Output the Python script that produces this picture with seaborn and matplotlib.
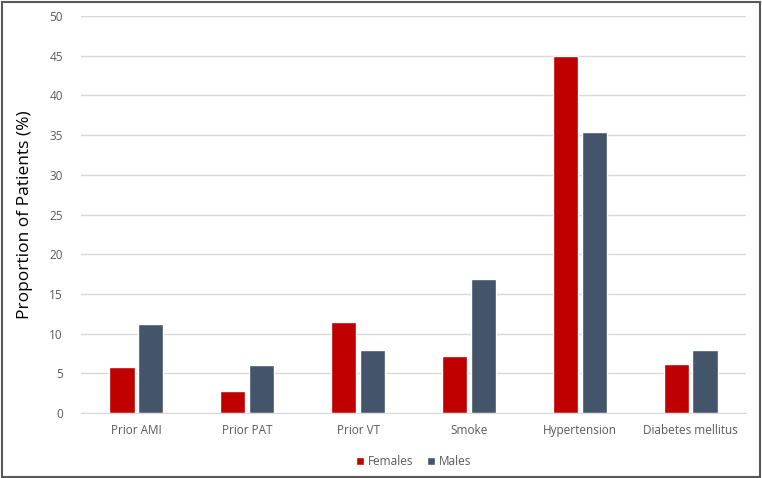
import matplotlib
matplotlib.use("Agg")
import matplotlib.pyplot as plt
import seaborn as sns
import pandas as pd
from matplotlib.patches import Rectangle

# Values
categories = ["Prior AMI", "Prior PAT", "Prior VT", "Smoke", "Hypertension", "Diabetes mellitus"]
females = [5.8, 2.8, 11.4, 7.2, 45.0, 6.2]
males = [11.2, 6.1, 7.9, 16.9, 35.4, 7.9]
yticks = [0, 5, 10, 15, 20, 25, 30, 35, 40, 45, 50]

df = pd.DataFrame({
    "category": categories * 2,
    "value": females + males,
    "sex": ["Females"] * len(categories) + ["Males"] * len(categories),
})

sns.set_style("white")
plt.rcParams["font.family"] = ["Open Sans", "DejaVu Sans"]

fig = plt.figure(figsize=(7.62, 4.78), dpi=100)
ax = fig.add_axes([0.1063, 0.136, 0.8727, 0.8305])

sns.barplot(data=df, x="category", y="value", hue="sex",
            palette={"Females": "#C00000", "Males": "#44546A"},
            saturation=1, width=0.52, gap=0.13, ax=ax, legend=True)

ax.set_ylim(0, 50)
ax.set_xlim(-0.5, len(categories) - 0.5)
ax.set_yticks(yticks)
ax.yaxis.grid(True, color="#D9D9D9", linewidth=1)
ax.set_axisbelow(True)
for s in ["top", "right", "left"]:
    ax.spines[s].set_visible(False)
ax.spines["bottom"].set_color("#D9D9D9")
ax.tick_params(axis="both", length=0, labelsize=8.5, labelcolor="#595959", pad=8)
ax.tick_params(axis="y", pad=13)
ax.set_xlabel("")
ax.set_ylabel("Proportion of Patients (%)", fontsize=12.5, color="black", labelpad=12)

ax.legend(loc="upper center", bbox_to_anchor=(0.5, -0.08), ncol=2, frameon=False,
          fontsize=8.5, labelcolor="#595959", handlelength=0.7, handleheight=0.7,
          handletextpad=0.3, columnspacing=1.2)

fig.patches.append(Rectangle((0.002, 0.003), 0.995, 0.993, transform=fig.transFigure,
                             fill=False, edgecolor="#595959", linewidth=1.5))

plt.savefig("out.png", dpi=100)
